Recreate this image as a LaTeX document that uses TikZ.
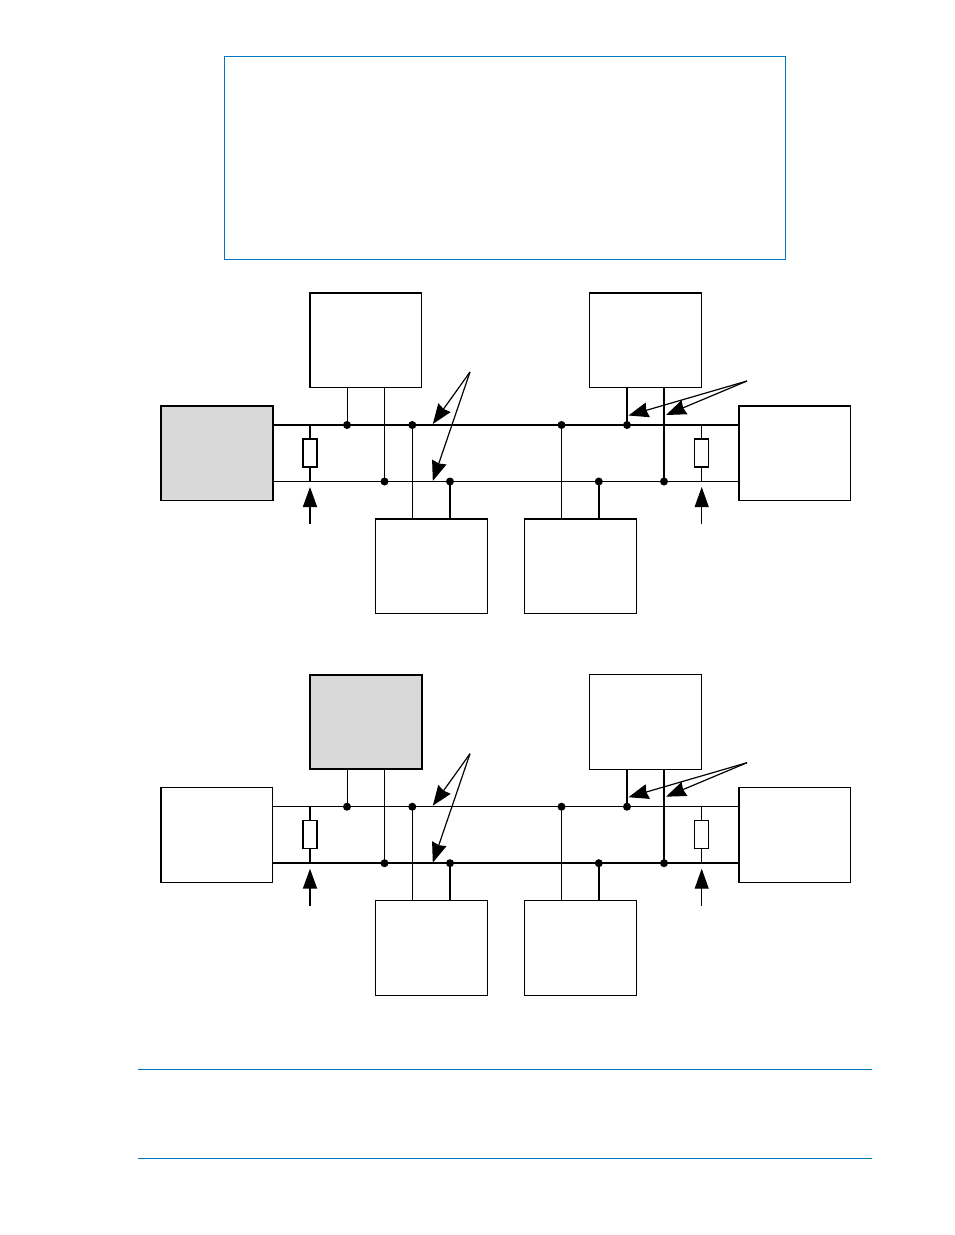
\documentclass[tikz,border=0pt]{standalone}
\usetikzlibrary{arrows.meta}
\definecolor{ruleblue}{RGB}{0,120,190}
\definecolor{boxgray}{RGB}{217,217,217}
\tikzset{
  x=1pt,y=-1pt,
  unit/.style={draw=black,line width=1.4pt,outer sep=0pt,fill=white,rectangle,inner sep=0pt,minimum width=111.7pt,minimum height=94.5pt,anchor=north west},
  activeunit/.style={unit,fill=boxgray,line width=1.9pt},
  res/.style={draw=black,line width=1.3pt,outer sep=0pt,fill=white,rectangle,inner sep=0pt,minimum width=14pt,minimum height=28pt},
  dot/.style={circle,fill=black,draw=none,inner sep=0pt,minimum size=8pt},
  thinw/.style={line width=1pt},
  thickw/.style={line width=2pt},
  ptr/.style={line width=1.2pt,-{Stealth[inset=1.5pt,length=20pt,width=15pt]}},
  uparrow/.style={-{Triangle[length=20pt,width=14pt]}},
}
% #1 offset, #2 top bus, #3 bottom bus, #4 left fill, #5 upper-left fill
\newcommand{\busdiagram}[5]{
\begin{scope}[yshift=-#1pt]
  \coordinate (hA) at (470,372);
  \coordinate (hB) at (747,381);
  \node[#4] (left) at (161,406) {};
  \node[#5] (ua) at (310,293) {};
  \node[unit] (ub) at (589.5,293) {};
  \node[unit] (right) at (739,406) {};
  \node[unit] (la) at (375.5,519) {};
  \node[unit] (lb) at (524.5,519) {};
  \coordinate (tl) at (left.east |- 0,425);
  \coordinate (tr) at (right.west |- 0,425);
  \coordinate (bl) at (left.east |- 0,481.5);
  \coordinate (br) at (right.west |- 0,481.5);
  \draw[#2] (tl) -- (tr);
  \draw[#3] (bl) -- (br);
  \node[dot] (t1) at (347,425) {};
  \node[dot] (t2) at (412.3,425) {};
  \node[dot] (t3) at (561.5,425) {};
  \node[dot] (t4) at (627,425) {};
  \node[dot] (b1) at (384.5,481.5) {};
  \node[dot] (b2) at (450,481.5) {};
  \node[dot] (b3) at (598.8,481.5) {};
  \node[dot] (b4) at (664,481.5) {};
  \draw[thinw] (t1.center) -- (t1 |- ua.south);
  \draw[thinw] (b1.center) -- (b1 |- ua.south);
  \draw[thinw] (t2.center) -- (t2 |- la.north);
  \draw[line width=1.9pt] (b2.center) -- (b2 |- la.north);
  \draw[thinw] (t3.center) -- (t3 |- lb.north);
  \draw[line width=1.9pt] (b3.center) -- (b3 |- lb.north);
  \draw[line width=1.9pt] (t4.center) -- (t4 |- ub.south);
  \draw[line width=1.9pt] (b4.center) -- (b4 |- ub.south);
  \coordinate (rlt) at (310,425);
  \coordinate (rlb) at (310,481.5);
  \coordinate (rrt) at (701.7,425);
  \coordinate (rrb) at (701.7,481.5);
  \draw[thickw] (rlt) -- (rlb);
  \draw[thinw] (rrt) -- (rrb);
  \node[res] (rl) at (310,453) {};
  \node[res] (rr) at (701.7,453) {};
  \coordinate (al) at (310,524);
  \coordinate (ar) at (701.7,524);
  \coordinate (alt) at (310,487);
  \coordinate (art) at (701.7,487);
  \draw[uparrow,line width=1.8pt] (al) -- (alt);
  \draw[uparrow,line width=1pt] (ar) -- (art);
  \coordinate (p1) at (432.8,424);
  \coordinate (p2) at (432.8,481);
  \coordinate (p3) at (628.5,415.5);
  \coordinate (p4) at (666,415);
  \draw[ptr] (hA) -- (p1);
  \draw[ptr] (hA) -- (p2);
  \draw[ptr] (hB) -- (p3);
  \draw[ptr] (hB) -- (p4);
\end{scope}
}
\begin{document}
\begin{tikzpicture}
  \useasboundingbox (0,0) rectangle (954,1235);
  \fill[white] (0,0) rectangle (954,1235);
  \node[draw=ruleblue,line width=1pt,outer sep=0pt,rectangle,inner sep=0pt,minimum width=561pt,minimum height=203pt,anchor=north west] (note) at (224.5,56.5) {};
  \busdiagram{0}{thickw}{thinw}{activeunit}{unit}
  \busdiagram{381.7}{thinw}{thickw}{unit}{activeunit}
  \coordinate (r1a) at (138,1069.5);
  \coordinate (r1b) at (872,1069.5);
  \coordinate (r2a) at (138,1158.5);
  \coordinate (r2b) at (872,1158.5);
  \draw[ruleblue,line width=1pt] (r1a) -- (r1b);
  \draw[ruleblue,line width=1pt] (r2a) -- (r2b);
\end{tikzpicture}
\end{document}
